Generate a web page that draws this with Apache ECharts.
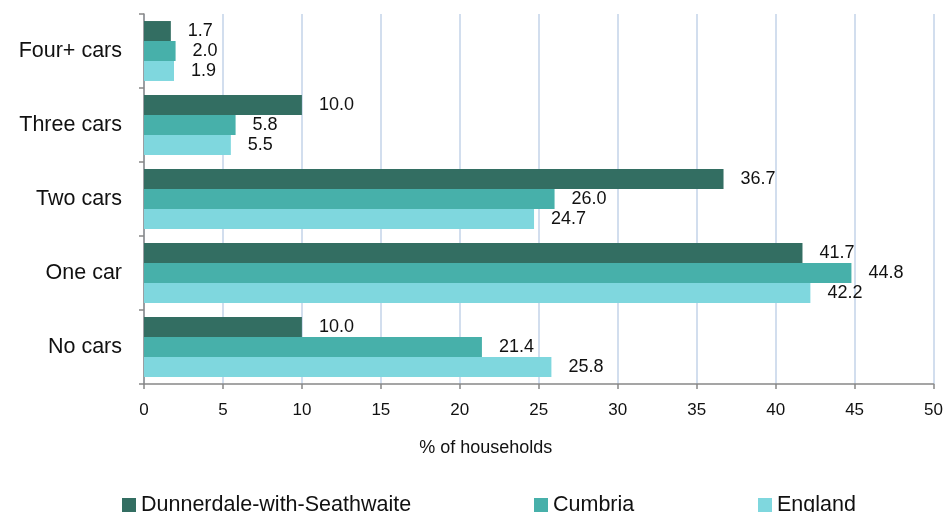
<!DOCTYPE html>
<html>
<head>
<meta charset="utf-8">
<script src="https://cdn.jsdelivr.net/npm/echarts@6/dist/echarts.min.js"></script>
<style>
  html, body { margin: 0; padding: 0; background: #fff; }
  #chart { width: 946px; height: 512px; }
</style>
</head>
<body>
<div id="chart"></div>
<script>
// data
var categories = ['Four+ cars', 'Three cars', 'Two cars', 'One car', 'No cars'];
var seriesNames = ['Dunnerdale-with-Seathwaite', 'Cumbria', 'England'];
var dunnerdale = [1.7, 10.0, 36.7, 41.7, 10.0];
var cumbria = [2.0, 5.8, 26.0, 44.8, 21.4];
var england = [1.9, 5.5, 24.7, 42.2, 25.8];
var colors = ['#336e62', '#47b0aa', '#7fd7de'];

var font = 'Liberation Sans, Arial, sans-serif';

var chart = echarts.init(document.getElementById('chart'));

function makeSeries(name, data, color) {
  return {
    name: name,
    type: 'bar',
    data: data,
    color: color,
    barGap: 0,
    barCategoryGap: '19%',
    label: {
      show: true,
      position: 'right',
      distance: 17,
      color: '#111',
      fontSize: 18,
      fontFamily: font,
      formatter: function (p) { return p.value.toFixed(1); }
    }
  };
}

function legendAt(left, name) {
  return {
    left: left,
    top: 494,
    padding: 0,
    data: [name],
    icon: 'rect',
    itemWidth: 14,
    itemHeight: 14,
    itemGap: 0,
    textStyle: { color: '#111', fontSize: 21.5, fontFamily: font }
  };
}

var option = {
  animation: false,
  legend: [
    legendAt(122, seriesNames[0]),
    legendAt(534, seriesNames[1]),
    legendAt(758, seriesNames[2])
  ],
  grid: { left: 144, right: 11, top: 14, bottom: 128, containLabel: false },
  xAxis: {
    type: 'value',
    min: 0,
    max: 50,
    interval: 5,
    name: '% of households',
    nameLocation: 'middle',
    nameGap: 55,
    nameTextStyle: { color: '#111', fontSize: 18, fontFamily: font, padding: [0, 106, 0, 0] },
    axisLine: { show: true, lineStyle: { color: '#888', width: 1.5 } },
    axisTick: { show: true, length: 5, lineStyle: { color: '#888', width: 1.5 } },
    axisLabel: { color: '#111', fontSize: 17, fontFamily: font, margin: 18 },
    splitLine: { show: true, lineStyle: { color: '#c3d3e8', width: 1.5 } }
  },
  yAxis: {
    type: 'category',
    inverse: true,
    data: categories,
    axisLine: { show: true, lineStyle: { color: '#888', width: 1.5 } },
    axisTick: { show: true, length: 5, lineStyle: { color: '#888', width: 1.5 } },
    axisLabel: { color: '#111', fontSize: 21.5, fontFamily: font, margin: 22 }
  },
  series: [
    makeSeries(seriesNames[0], dunnerdale, colors[0]),
    makeSeries(seriesNames[1], cumbria, colors[1]),
    makeSeries(seriesNames[2], england, colors[2])
  ]
};

chart.setOption(option);
</script>
</body>
</html>
